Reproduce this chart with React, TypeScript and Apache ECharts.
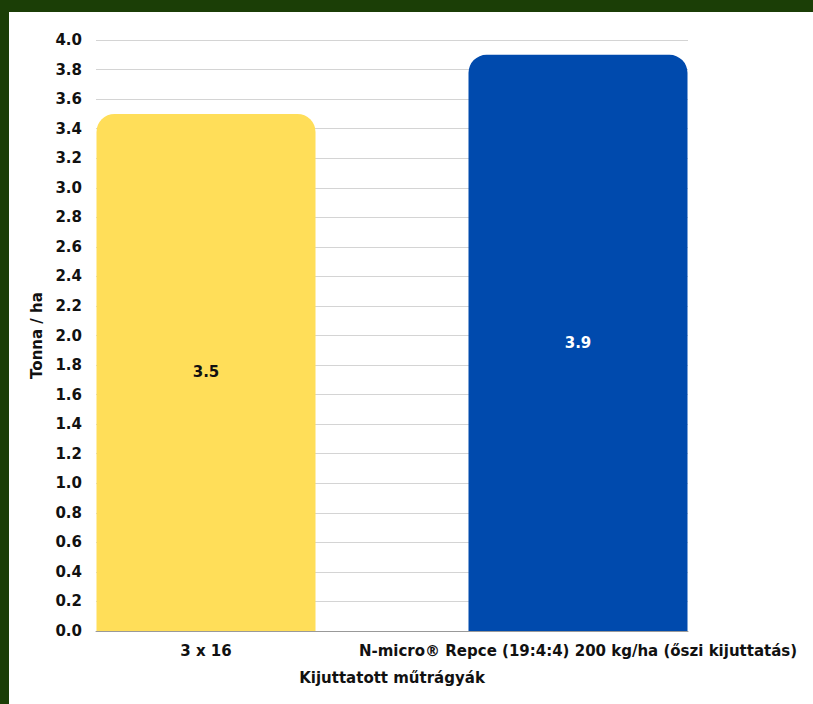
import React, { useEffect, useRef } from "react";
import * as echarts from "echarts";

const categories = ["3 x 16", "N-micro® Repce (19:4:4) 200 kg/ha (őszi kijuttatás)"];
const values = [3.5, 3.9];
const barColors = ["#FFDE59", "#004AAD"];
const labelColors = ["#111111", "#ffffff"];
const xAxisName = "Kijuttatott műtrágyák";
const yAxisName = "Tonna / ha";

const FONT = "'DejaVu Sans', Verdana, sans-serif";

export default function App() {
  const ref = useRef<HTMLDivElement>(null);
  useEffect(() => {
    document.body.style.margin = "0";
    const chart = echarts.init(ref.current!, undefined, { renderer: "svg" });
    const txt = { color: "#111111", fontSize: 15, fontWeight: "bold", fontFamily: FONT };
    chart.setOption({
      animation: false,
      backgroundColor: "#1b3e06",
      textStyle: { fontFamily: FONT },
      graphic: [
        { type: "rect", shape: { x: 9, y: 12, width: 804, height: 692 }, style: { fill: "#ffffff" }, z: -10 },
      ],
      grid: [
        { left: 96, right: 125, top: 40, bottom: 73 },
        { left: 20, right: 49, top: 40, bottom: 73 },
      ],
      xAxis: [
        {
          gridIndex: 0,
          type: "value",
          min: 0,
          max: 1,
          axisLine: { show: true, onZero: false, lineStyle: { color: "#999999", width: 1 } },
          axisTick: { show: false },
          axisLabel: { show: false },
          splitLine: { show: false },
        },
        {
          gridIndex: 1,
          type: "category",
          data: categories,
          axisLine: { show: false },
          axisTick: { show: false },
          axisLabel: { ...txt, interval: 0, margin: 12 },
          name: xAxisName,
          nameLocation: "middle",
          nameGap: 39,
          nameTextStyle: txt,
        },
      ],
      yAxis: [
        {
          gridIndex: 0,
          type: "value",
          min: 0,
          max: 4,
          interval: 0.2,
          axisLine: { show: false },
          axisTick: { show: false },
          axisLabel: {
            ...txt,
            margin: 14,
            formatter: (v: number) => v.toFixed(1),
          },
          splitLine: { show: true, lineStyle: { color: "#d4d4d4", width: 1 } },
          name: yAxisName,
          nameLocation: "middle",
          nameGap: 52,
          nameTextStyle: txt,
        },
        {
          gridIndex: 1,
          type: "value",
          min: 0,
          max: 4,
          show: false,
        },
      ],
      series: [
        {
          type: "bar",
          xAxisIndex: 1,
          yAxisIndex: 1,
          barWidth: 219,
          data: values.map((v, i) => ({
            value: v,
            itemStyle: { color: barColors[i], borderRadius: [18, 18, 0, 0] },
            label: { color: labelColors[i] },
          })),
          label: {
            show: true,
            position: "inside",
            fontSize: 15,
            fontWeight: "bold",
            fontFamily: FONT,
            formatter: (p: any) => p.value.toFixed(1),
          },
        },
      ],
    });
    return () => chart.dispose();
  }, []);
  return <div ref={ref} style={{ width: 813, height: 704 }} />;
}
